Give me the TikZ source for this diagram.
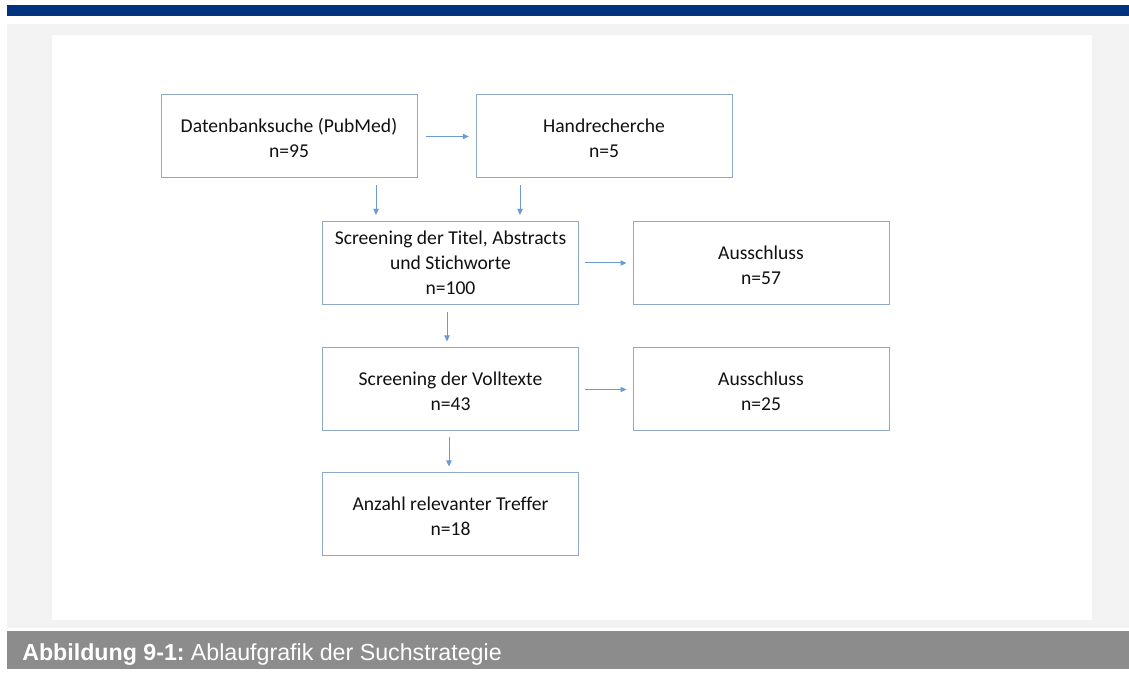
\documentclass[tikz,border=0pt]{standalone}
\usepackage{fontspec}
\setmainfont[Ligatures={NoCommon}]{Carlito}
\newfontfamily\capfont{Liberation Sans}
\usetikzlibrary{arrows.meta}
\definecolor{bluebar}{HTML}{003380}
\definecolor{bggrey}{HTML}{F3F3F3}
\definecolor{capgrey}{HTML}{8C8C8C}
\definecolor{boxcol}{HTML}{8EA8C8}
\definecolor{arrcol}{HTML}{6A9BD2}
\definecolor{txtcol}{HTML}{111111}
\begin{document}
\begin{tikzpicture}[x=0.75pt,y=-0.75pt,
  flowbox/.style={draw=boxcol, line width=0.75pt, minimum width=192pt, minimum height=62.25pt,
    inner sep=0pt, align=center, text=txtcol, font=\fontsize{14.7}{18.6}\selectfont},
  arr/.style={draw=arrcol, line width=0.75pt, -{Triangle[length=4.5pt,width=4pt]}}]
\useasboundingbox (0,0) rectangle (1129,673);
\fill[white] (0,0) rectangle (1129,673);
\fill[bluebar] (7,5) rectangle (1129,16);
\fill[bggrey] (7,24) rectangle (1129,628);
\fill[white] (52,35) rectangle (1092,620);
\fill[capgrey] (7,631) rectangle (1129,669);
\node[anchor=base west, text=white, inner sep=0pt, font=\capfont\fontsize{17.4}{20}\selectfont] (cap) at (22,660) {\textbf{Abbildung 9-1:}\hspace{-0.1em} Ablaufgrafik der Suchstrategie};

\node[flowbox] (b1) at (289,136.5) {\strut Datenbanksuche (PubMed)\\n=95};
\node[flowbox] (b2) at (604,136.5) {\strut Handrecherche\\n=5};
\node[flowbox] (b3) at (450.5,263) {Screening der Titel, Abstracts\\und Stichworte\\n=100};
\node[flowbox] (b4) at (761,263) {\strut Ausschluss\\n=57};
\node[flowbox] (b5) at (450.5,389.5) {\strut Screening der Volltexte\\n=43};
\node[flowbox] (b6) at (761,389.5) {\strut Ausschluss\\n=25};
\node[flowbox] (b7) at (450.5,514.5) {\strut Anzahl relevanter Treffer\\n=18};

\coordinate (xa) at (376,0);
\coordinate (xb) at (520,0);
\coordinate (xc) at (447,0);
\coordinate (xd) at (449,0);

\draw[arr, shorten <=6pt, shorten >=5pt] (b1) -- (b2);
\draw[arr, shorten <=5pt, shorten >=4.5pt] (b1.south -| xa) -- (b3.north -| xa);
\draw[arr, shorten <=5pt, shorten >=4.5pt] (b2.south -| xb) -- (b3.north -| xb);
\draw[arr, shorten <=4.5pt, shorten >=4.5pt] (b3) -- (b4);
\draw[arr, shorten <=5.5pt, shorten >=4.5pt] (b3.south -| xc) -- (b5.north -| xc);
\draw[arr, shorten <=4.5pt, shorten >=4.5pt] (b5) -- (b6);
\draw[arr, shorten <=4.5pt, shorten >=4.5pt] (b5.south -| xd) -- (b7.north -| xd);
\end{tikzpicture}
\end{document}
